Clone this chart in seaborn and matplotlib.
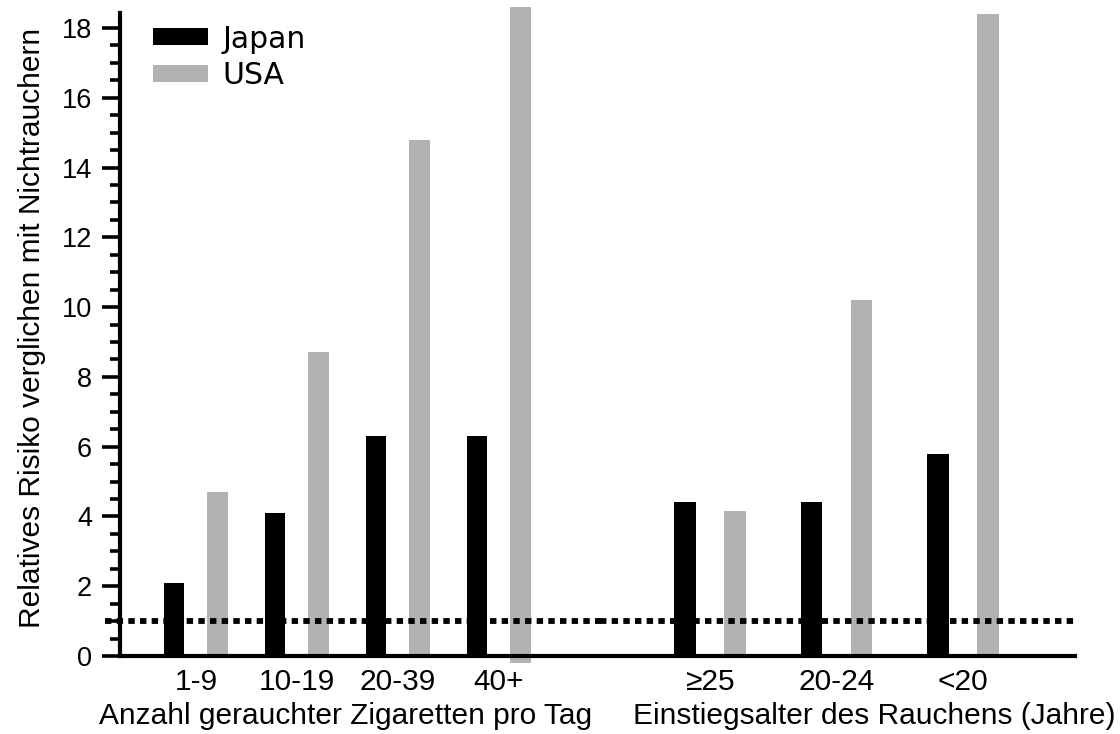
import matplotlib
matplotlib.use("Agg")
import matplotlib.pyplot as plt
from matplotlib.patches import Patch
from matplotlib.ticker import MultipleLocator
import pandas as pd
import seaborn as sns

# Relative risk vs. non-smokers, by daily cigarette count
dose_labels = ["1-9", "10-19", "20-39", "40+"]
dose_japan = [2.1, 4.1, 6.3, 6.3]
dose_usa = [4.7, 8.7, 14.8, 18.6]
dose_usa_base = [0, 0, 0, -0.2]

# Relative risk vs. non-smokers, by age at smoking onset
onset_labels = ["≥25", "20-24", "<20"]
onset_japan = [4.4, 4.4, 5.8]
onset_usa = [4.15, 10.2, 18.4]

countries = ["Japan", "USA"]
reference_risk = 1.0

sns.set_style("ticks")
plt.rcParams["font.family"] = ["Liberation Sans", "DejaVu Sans"]
plt.rcParams.update({"text.color": "black", "axes.labelcolor": "black",
                     "xtick.color": "black", "ytick.color": "black",
                     "axes.edgecolor": "black"})


def to_long(labels, japan, usa):
    return pd.DataFrame({
        "Kategorie": labels * 2,
        "Land": ["Japan"] * len(labels) + ["USA"] * len(labels),
        "Risiko": japan + usa,
    })


palette = {"Japan": "#000000", "USA": "#b2b2b2"}
label_size = 21.5

fig = plt.figure(figsize=(11.2, 7.34), dpi=100)
ax1 = fig.add_axes([0.1071, 0.1063, 0.4286, 0.876])
ax2 = fig.add_axes([0.5357, 0.1063, 0.4241, 0.876])
# Left panel on top, so its baseline lies over the bars of the right panel
ax1.set_zorder(2)
ax2.set_zorder(1)

sns.barplot(data=to_long(dose_labels, dose_japan, dose_usa), x="Kategorie", y="Risiko",
            hue="Land", order=dose_labels, hue_order=countries, palette=palette,
            saturation=1, width=0.86, gap=0.53, errorbar=None, linewidth=0,
            legend=False, ax=ax1)
sns.barplot(data=to_long(onset_labels, onset_japan, onset_usa), x="Kategorie", y="Risiko",
            hue="Land", order=onset_labels, hue_order=countries, palette=palette,
            saturation=1, width=0.79, gap=0.57, errorbar=None, linewidth=0,
            legend=False, ax=ax2)

# USA bars of the dose panel come after the Japan bars; apply their base offsets
usa_bars = ax1.patches[len(dose_labels):2 * len(dose_labels)]
for bar, base, val in zip(usa_bars, dose_usa_base, dose_usa):
    bar.set_y(base)
    bar.set_height(val - base)

for ax in (ax1, ax2):
    for p in ax.patches:
        p.set_clip_on(False)
    ax.set_ylim(0, 18.43)
    ax.spines["top"].set_visible(False)
    ax.spines["right"].set_visible(False)
    ax.tick_params(axis="x", length=0, labelsize=label_size, pad=9)
    ax.set_facecolor("none")

ax1.axhline(reference_risk, xmin=-0.031, xmax=1, color="black", lw=4.2,
            linestyle=(0, (1.1, 0.9)), zorder=5, clip_on=False)
ax2.axhline(reference_risk, xmin=0, xmax=1.006, color="black", lw=4.2,
            linestyle=(0, (1.1, 0.9)), zorder=5, clip_on=False)

ax1.set_xlim(-0.752, 4.0)
ax2.set_xlim(-0.87, 2.885)

# One unbroken baseline: the left panel's bottom spine runs across both panels
fig.canvas.draw()
right_end = ax1.transData.inverted().transform(
    ax2.transAxes.transform((1.0, 0.0)))[0]
ax1.spines["bottom"].set_bounds(-0.752, right_end)
ax1.spines["bottom"].set_linewidth(3.0)
ax1.spines["bottom"].set_zorder(6)
ax2.spines["bottom"].set_visible(False)

# Y axis only on the left panel
ax1.spines["left"].set_linewidth(3.0)
ax1.spines["left"].set_capstyle("projecting")
ax1.yaxis.set_major_locator(MultipleLocator(2))
ax1.yaxis.set_minor_locator(MultipleLocator(0.5))
ax1.tick_params(axis="y", which="major", length=13, width=2.6, labelsize=19.5, pad=7)
ax1.tick_params(axis="y", which="minor", length=7, width=2.6)
ax2.spines["left"].set_visible(False)
ax2.tick_params(axis="y", which="both", left=False, labelleft=False)
ax2.set_ylabel("")

ax1.set_ylabel("Relatives Risiko verglichen mit Nichtrauchern", fontsize=label_size)
ax1.yaxis.set_label_coords(-0.183, 0.51)
ax1.yaxis.label.set_va("center")

ax1.set_xlabel("Anzahl gerauchter Zigaretten pro Tag", fontsize=label_size)
ax1.xaxis.set_label_coords(0.469, -0.093)
ax1.xaxis.label.set_va("center")
ax2.set_xlabel("Einstiegsalter des Rauchens (Jahre)", fontsize=label_size)
ax2.xaxis.set_label_coords(0.577, -0.093)
ax2.xaxis.label.set_va("center")

handles = [Patch(facecolor=palette[c], edgecolor="none", label=c) for c in countries]
ax1.legend(handles=handles, loc="upper left", bbox_to_anchor=(0.069, 0.982),
           frameon=False, borderpad=0, borderaxespad=0, handlelength=1.84,
           handleheight=0.5, handletextpad=0.47, labelspacing=0.24,
           prop={"family": "DejaVu Sans", "size": 21.5})

fig.savefig("out.png", dpi=100, facecolor="white")
